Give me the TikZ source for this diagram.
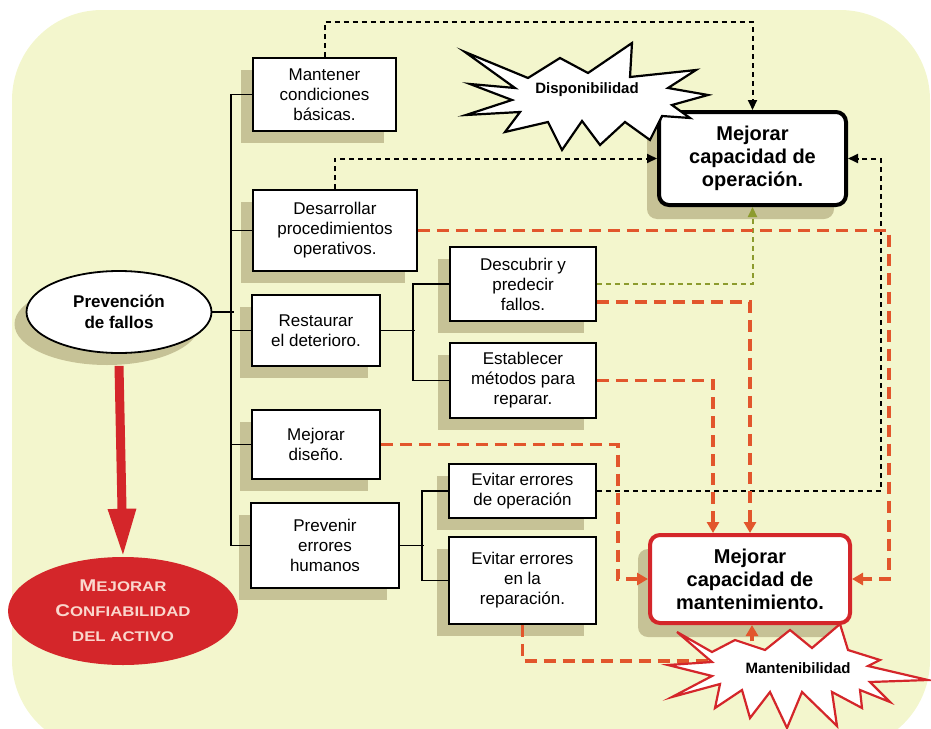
\documentclass[tikz,border=0pt]{standalone}
\usepackage{fontspec}
\setmainfont{Liberation Sans}
\newfontfamily\widesans{Liberation Sans}[FakeStretch=1.2]
\usetikzlibrary{shapes, arrows.meta, shadows}
\definecolor{bgyellow}{RGB}{243, 246, 205}
\definecolor{shadowkhaki}{RGB}{198, 194, 150}
\definecolor{alertred}{RGB}{212, 38, 42}
\definecolor{dashred}{RGB}{226, 86, 44}
\definecolor{dasholive}{RGB}{140, 155, 45}
\definecolor{capspink}{RGB}{250, 215, 205}

\begin{document}
\begin{tikzpicture}[x=1pt, y=-1pt,
        task/.style={rectangle, draw, fill=white, line width=1.8pt, align=center, font=\fontsize{17}{20}\selectfont, drop shadow={shadow xshift=-12pt, shadow yshift=-12pt, fill=shadowkhaki, opacity=1}},
        goal/.style={rectangle, draw, fill=white, rounded corners=10pt, line width=4pt, align=center, font=\bfseries\fontsize{20}{23}\selectfont, drop shadow={shadow xshift=-12pt, shadow yshift=-14pt, fill=shadowkhaki, opacity=1}},
        tree/.style={line width=1.7pt},
        blackdash/.style={line width=2pt, dash pattern=on 5pt off 4pt, -{Triangle[length=10pt, width=9pt]}},
        reddash/.style={dashred, line width=3.6pt, dash pattern=on 12pt off 7pt, -{Triangle[length=11pt, width=12pt]}},
        burst/.style={draw, fill=white, line width=2.2pt, line join=miter}
    ]
        \useasboundingbox (0,0) rectangle (931,728);
        \fill[bgyellow, rounded corners=90pt] (12,10) rectangle (930,750);

        \node[ellipse, draw, fill=white, line width=1.8pt, minimum width=185pt, minimum height=82pt, align=center, font=\bfseries\fontsize{17}{21}\selectfont, drop shadow={shadow xshift=-12pt, shadow yshift=-12pt, fill=shadowkhaki, opacity=1}] (fallos) at (119,312) {Prevención\\de fallos};
        \node[ellipse, fill=alertred, minimum width=230pt, minimum height=108pt, align=center, text=capspink, font=\bfseries\widesans\fontsize{14}{25}\selectfont] (confiab) at (123,611) {{\fontsize{17}{25}\selectfont M}EJORAR\\{\fontsize{17}{25}\selectfont C}ONFIABILIDAD\\DEL ACTIVO};
        \draw[alertred, line width=9pt, -{Triangle[length=48pt, width=26pt]}] ([yshift=-12pt]fallos.south) -- (confiab.north);

        \node[task, minimum width=143pt, minimum height=73pt] (basicas) at (324.5,94.5) {Mantener\\condiciones\\básicas.};
        \node[task, minimum width=164pt, minimum height=81pt] (procedim) at (335,230.5) {Desarrollar\\procedimientos\\operativos.};
        \node[task, minimum width=128pt, minimum height=71pt] (deterioro) at (316,330.5) {Restaurar\\el deterioro.};
        \node[task, minimum width=128pt, minimum height=69pt] (diseno) at (316,444.5) {Mejorar\\diseño.};
        \node[task, minimum width=148pt, minimum height=85pt] (humanos) at (325,545.5) {Prevenir\\errores\\humanos};
        \node[task, minimum width=146pt, minimum height=74pt] (predecir) at (523,284) {Descubrir y\\predecir\\fallos.};
        \node[task, minimum width=146pt, minimum height=75pt] (reparar) at (523,380.5) {Establecer\\métodos para\\reparar.};
        \node[task, minimum width=147pt, minimum height=54pt] (erroroper) at (522.5,491) {Evitar errores\\de operación};
        \node[task, minimum width=147pt, minimum height=87pt] (errorrep) at (522.5,580.5) {Evitar errores\\en la\\reparación.};
        \node[goal, minimum width=187pt, minimum height=93pt] (operacion) at (752.5,158.5) {Mejorar\\capacidad de\\operación.};
        \node[goal, draw=alertred, minimum width=200pt, minimum height=88pt] (mantenim) at (750,579) {Mejorar\\capacidad de\\mantenimiento.};

        % arbol
        \draw[tree] (fallos.east) -- ++(22,0);
        \draw[tree] (basicas.west) -- ++(-21,0) |- (humanos.west);
        \draw[tree] (procedim.west) -- ++(-21,0);
        \draw[tree] (deterioro.west) -- ++(-20,0);
        \draw[tree] (diseno.west) -- ++(-20,0);
        \draw[tree] (deterioro.east) -- ++(34,0);
        \draw[tree] (predecir.west) -- ++(-36,0) |- (reparar.west);
        \draw[tree] (humanos.east) -- ++(24,0);
        \draw[tree] (erroroper.west) -- ++(-26,0) |- (errorrep.west);

        % hacia operacion
        \draw[blackdash] (basicas.north) -- ++(0,-35) -| (operacion.north);
        \draw[blackdash] (procedim.north) |- (operacion.west);
        \draw[blackdash] (erroroper.east) -- ++(284,0) |- (operacion.east);
        \draw[blackdash, dasholive] (predecir.east) -| (operacion.south);

        % hacia mantenimiento
        \draw[reddash] (procedim.east) -- ++(471,0) |- (mantenim.east);
        \draw[reddash] ([yshift=-18pt]predecir.east) -| (mantenim.north);
        \draw[reddash] (reparar.east) -| ([xshift=-37pt]mantenim.north);
        \draw[reddash] (diseno.east) -- ++(237,0) |- (mantenim.west);
        \draw[reddash] (errorrep.south) -- ++(0,36) -| ([xshift=2pt]mantenim.south);

        % estrellas
        \draw[burst] (465,52) -- (528,78) -- (560,58) -- (588,73) -- (632,43) -- (630,77) -- (696,70) -- (668,88) -- (708,95) -- (672,105) -- (690,118) -- (662,116) -- (650,140) -- (625,122) -- (600,145) -- (582,121) -- (562,150) -- (548,122) -- (505,132) -- (520,112) -- (466,115) -- (512,100) -- (470,84) -- (515,88) -- cycle;
        \node[font=\bfseries\fontsize{15}{18}\selectfont] (dispon) at (587,90) {Disponibilidad};
        \draw[burst, draw=alertred] (677,632) -- (712,652) -- (735,640) -- (765,650) -- (790,630) -- (812,648) -- (840,624) -- (848,650) -- (880,660) -- (868,666) -- (928,680) -- (870,682) -- (890,702) -- (860,690) -- (862,708) -- (832,692) -- (837,726) -- (802,692) -- (787,728) -- (770,692) -- (750,718) -- (742,690) -- (715,708) -- (720,684) -- (672,697) -- (712,676) -- (668,665) -- (712,662) -- cycle;
        \node[font=\bfseries\fontsize{15}{18}\selectfont] (manteni) at (798,668) {Mantenibilidad};
    \end{tikzpicture}
\end{document}
